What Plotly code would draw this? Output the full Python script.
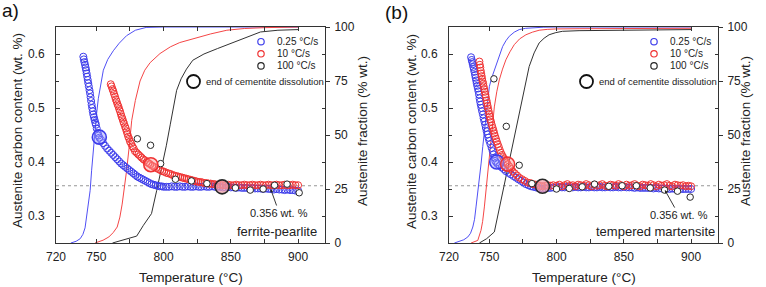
import plotly.graph_objects as go

W, H = 766, 287
MT, MB = 27, 44
PLOT_H = H - MT - MB

# ---------------- data ----------------
T_RANGE = [720, 920]
X_TICKS = [720, 750, 775, 800, 825, 850, 875, 900]
X_TICK_TEXT = ["720", "750", "", "800", "", "850", "", "900"]
C_RANGE = [0.25, 0.65]
C_TICKS = [0.3, 0.4, 0.5, 0.6]
C_MINOR = [0.35, 0.45, 0.55]
F_RANGE = [0, 100]
F_TICKS = [0, 25, 50, 75, 100]
F_MINOR = [12.5, 37.5, 62.5, 87.5]
REF_C = 0.356
RATES = ["0.25 °C/s", "10 °C/s", "100 °C/s"]
END_LABEL = "end of cementite dissolution"
PANEL_NOTES = ["ferrite-pearlite", "tempered martensite"]

# ----- panel a : carbon content (wt. %) -----
a_blue_T = [740.3, 740.7, 741.1, 741.6, 742.0, 742.4, 742.8, 743.2, 743.6, 744.0, 744.4, 744.9,
            745.3, 745.7, 746.1, 746.5, 746.9, 747.3, 747.7, 748.2, 748.7, 749.2, 749.7, 750.3,
            751.0, 751.6, 752.2, 753.5, 755.0, 756.5, 758.0, 759.5, 761.0, 762.5, 764.0, 765.5,
            767.0, 768.5, 770.0, 771.5, 773.0, 774.5, 776.0, 777.5, 779.0, 780.5, 782.0, 783.5,
            785.0, 786.5, 788.0, 789.5, 791.0, 792.5, 794.0, 795.5, 797.0, 798.5, 800.0,
            802, 804, 806, 808, 810, 812, 814, 816, 818, 820, 822, 824, 826, 828, 830, 832, 834,
            836, 838, 840, 842, 844, 846, 848, 850, 852, 854, 856, 858, 860, 862, 864, 866, 868,
            870, 872, 874, 876, 878, 880, 882, 884, 886, 888, 890, 892, 894, 896, 898, 900]
a_blue_C = [0.595, 0.590, 0.585, 0.580, 0.575, 0.570, 0.564, 0.558, 0.552, 0.546, 0.540, 0.533,
            0.527, 0.520, 0.513, 0.506, 0.500, 0.494, 0.488, 0.483, 0.478, 0.473, 0.469, 0.462,
            0.454, 0.449, 0.445, 0.441, 0.435, 0.430, 0.425, 0.421, 0.417, 0.413, 0.409, 0.405,
            0.401, 0.397, 0.394, 0.391, 0.388, 0.385, 0.382, 0.379, 0.376, 0.373, 0.371, 0.369,
            0.367, 0.365, 0.363, 0.361, 0.359, 0.358, 0.357, 0.356, 0.355, 0.355, 0.354,
            0.354, 0.354, 0.355, 0.354, 0.354, 0.355, 0.354, 0.354, 0.355, 0.354, 0.354, 0.355,
            0.354, 0.354, 0.355, 0.354, 0.354, 0.355, 0.354, 0.354, 0.354, 0.353, 0.353, 0.354,
            0.353, 0.353, 0.352, 0.353, 0.352, 0.352, 0.352, 0.351, 0.352, 0.351, 0.351, 0.351,
            0.350, 0.351, 0.350, 0.350, 0.349, 0.350, 0.349, 0.349, 0.348, 0.349, 0.348, 0.348,
            0.347, 0.347]

a_red_T = [760.7, 761.3, 762.0, 762.6, 763.2, 763.9, 764.5, 765.1, 765.7, 766.4, 767.0, 767.6,
           768.2, 768.8, 769.4, 770.0, 770.6, 771.3, 771.9, 772.5, 773.1, 773.7, 774.4, 775.0,
           775.9, 776.8, 777.8, 778.7, 780.0, 781.2, 782.5, 783.7, 785.0, 786.2, 787.5, 788.7,
           789.9, 791.5, 793.0, 794.5, 796.0, 797.5, 799.0, 800.5, 802.0, 803.5, 805.0, 806.5,
           808.0, 809.5, 811.0, 812.5, 814.0, 815.5, 817.0, 818.5, 820.0, 821.5, 823.0, 824.5,
           826.0, 827.5, 829.0, 830.5, 832.0, 833.5, 835.0, 836.5, 838.0,
           840, 842, 844, 846, 848, 850, 852, 854, 856, 858, 860, 862, 864, 866, 868, 870, 872,
           874, 876, 878, 880, 882, 884, 886, 888, 890, 892, 894, 896, 898, 900]
a_red_C = [0.544, 0.540, 0.535, 0.531, 0.526, 0.521, 0.516, 0.512, 0.507, 0.503, 0.498, 0.494,
           0.489, 0.484, 0.480, 0.475, 0.471, 0.466, 0.462, 0.457, 0.452, 0.447, 0.443, 0.438,
           0.434, 0.429, 0.425, 0.420, 0.417, 0.414, 0.411, 0.408, 0.405, 0.403, 0.400, 0.398,
           0.396, 0.393, 0.391, 0.389, 0.387, 0.385, 0.383, 0.382, 0.380, 0.379, 0.378, 0.376,
           0.375, 0.374, 0.373, 0.372, 0.371, 0.370, 0.369, 0.368, 0.367, 0.366, 0.365, 0.364,
           0.363, 0.363, 0.362, 0.361, 0.361, 0.360, 0.360, 0.359, 0.359,
           0.358, 0.358, 0.357, 0.357, 0.358, 0.357, 0.357, 0.358, 0.357, 0.357, 0.358, 0.357,
           0.357, 0.358, 0.357, 0.357, 0.358, 0.357, 0.357, 0.358, 0.357, 0.357, 0.358, 0.357,
           0.357, 0.358, 0.357, 0.357, 0.358, 0.357, 0.357]

a_black_T = [780.5, 790.3, 797.8, 808.8, 820.7, 832.2, 853.4, 864.4, 874.0, 882.5, 891.8, 900.8]
a_black_C = [0.443, 0.431, 0.397, 0.368, 0.365, 0.360, 0.352, 0.348, 0.350, 0.357, 0.359, 0.343]

# end of cementite dissolution (panel a): blue, red, black
a_end_T = [752.2, 790.5, 843.5]
a_end_C = [0.446, 0.395, 0.354]

# ----- panel a : austenite fraction (% wt.) -----
a_fblue_T = [731, 735, 738, 740, 741.6, 743, 744.3, 745.4, 746.5, 747.7, 749, 750.2, 751.5,
             753.3, 755.2, 758.5, 762.6, 767, 772.5, 779, 787, 800, 850, 900]
a_fblue_F = [0, 0.8, 2, 4, 7, 13, 19, 24.4, 33.7, 43, 52, 60, 67, 74, 80, 85, 89, 92.5, 96,
             98.5, 99.8, 100, 100, 100]
a_fred_T = [749, 752, 755, 759.3, 762.5, 765.5, 767.5, 769.2, 770.6, 772.5, 774.5, 776.3, 779,
            782.5, 786, 790, 797.3, 805, 812, 822, 835, 847, 860, 875, 900]
a_fred_F = [0, 0.5, 1.3, 2.8, 4.8, 7.4, 12, 18, 24.4, 33.6, 45, 56.8, 66, 75, 80, 83.5, 87.7,
            90.8, 92.8, 94.6, 96.8, 98.5, 99.3, 99.7, 100]
a_fblack_T = [762, 770, 780, 785, 791, 794.9, 798.6, 802, 805, 808, 809.7, 813, 817, 821.7,
              830, 840, 852, 862, 872, 885, 900]
a_fblack_F = [0, 1.5, 3.2, 8.2, 13.6, 24.4, 35, 45, 55, 66, 70.7, 76, 80.5, 84.6, 87.5, 90,
              93, 95.5, 97.7, 98.5, 98.8]

# ----- panel b : carbon content (wt. %) -----
b_blue_T = [736.4, 736.9, 737.3, 737.7, 738.1, 738.5, 738.9, 739.4, 739.8, 740.2, 740.6, 741.0,
            741.5, 741.9, 742.3, 742.7, 743.1, 743.6, 744.1, 744.6, 745.2, 745.7, 746.3, 746.9,
            747.4, 748.0, 748.7, 749.3, 750.0, 750.8, 751.7, 752.5, 753.1, 753.8, 754.4, 755.3,
            756.2, 757.7, 759.2, 760.7, 762.3, 764.2, 766.0, 767.9, 769.8, 771.6, 773.5, 775.3,
            777.2, 779.1, 781.0, 782.8, 784.6, 786.2, 787.8, 789.5, 791.5, 793.5, 795.5, 797.5,
            800, 802, 804, 806, 808, 810, 812, 814, 816, 818, 820, 822, 824, 826, 828, 830, 832,
            834, 836, 838, 840, 842, 844, 846, 848, 850, 852, 854, 856, 858, 860, 862, 864, 866,
            868, 870, 872, 874, 876, 878, 880, 882, 884, 886, 888, 890, 892, 894, 896, 898, 900]
b_blue_C = [0.594, 0.589, 0.585, 0.581, 0.576, 0.572, 0.567, 0.561, 0.556, 0.551, 0.546, 0.541,
            0.536, 0.531, 0.525, 0.518, 0.512, 0.506, 0.500, 0.494, 0.488, 0.481, 0.475, 0.469,
            0.463, 0.457, 0.451, 0.445, 0.439, 0.433, 0.426, 0.420, 0.414, 0.408, 0.402, 0.399,
            0.396, 0.393, 0.390, 0.387, 0.383, 0.380, 0.377, 0.374, 0.371, 0.368, 0.365, 0.362,
            0.359, 0.357, 0.355, 0.354, 0.353, 0.352, 0.351, 0.350, 0.351, 0.352, 0.352, 0.353,
            0.353, 0.354, 0.353, 0.353, 0.354, 0.353, 0.353, 0.354, 0.353, 0.353, 0.354, 0.353,
            0.353, 0.354, 0.353, 0.353, 0.354, 0.353, 0.353, 0.354, 0.353, 0.353, 0.354, 0.353,
            0.353, 0.354, 0.353, 0.353, 0.353, 0.352, 0.353, 0.352, 0.352, 0.352, 0.352, 0.352,
            0.351, 0.352, 0.351, 0.351, 0.351, 0.351, 0.350, 0.351, 0.350, 0.350, 0.350, 0.350,
            0.350, 0.350, 0.350]

b_red_T = [742.6, 742.9, 743.3, 743.6, 743.9, 744.3, 744.6, 745.0, 745.4, 745.8, 746.2, 746.6,
           747.0, 747.4, 747.9, 748.3, 748.7, 749.1, 749.5, 749.9, 750.3, 750.7, 751.3, 751.9,
           752.5, 753.1, 753.6, 754.2, 754.9, 755.5, 756.2, 757.0, 757.8, 758.6, 759.4, 760.3,
           761.1, 762.0, 762.8, 763.6, 764.8, 766.1, 767.3, 768.9, 770.6, 772.2, 774.3, 776.3,
           778.4, 780.5, 782.5, 784.6, 786.2, 787.8, 789.5, 791.5, 793.5, 795.5, 797.5,
           800, 802, 804, 806, 808, 810, 812, 814, 816, 818, 820, 822, 824, 826, 828, 830, 832,
           834, 836, 838, 840, 842, 844, 846, 848, 850, 852, 854, 856, 858, 860, 862, 864, 866,
           868, 870, 872, 874, 876, 878, 880, 882, 884, 886, 888, 890, 892, 894, 896, 898, 900]
b_red_C = [0.586, 0.580, 0.575, 0.569, 0.564, 0.559, 0.554, 0.549, 0.545, 0.540, 0.535, 0.530,
           0.525, 0.520, 0.514, 0.509, 0.504, 0.499, 0.494, 0.489, 0.484, 0.479, 0.474, 0.468,
           0.463, 0.458, 0.453, 0.448, 0.443, 0.438, 0.433, 0.428, 0.422, 0.417, 0.413, 0.409,
           0.405, 0.402, 0.399, 0.396, 0.392, 0.387, 0.383, 0.379, 0.375, 0.371, 0.368, 0.365,
           0.362, 0.361, 0.359, 0.358, 0.357, 0.356, 0.355, 0.356, 0.357, 0.356, 0.357,
           0.356, 0.358, 0.355, 0.357, 0.359, 0.356, 0.357, 0.355, 0.358, 0.357, 0.356, 0.359,
           0.357, 0.355, 0.358, 0.356, 0.357, 0.359, 0.356, 0.355, 0.358, 0.357, 0.356, 0.359,
           0.357, 0.355, 0.358, 0.356, 0.357, 0.359, 0.356, 0.355, 0.358, 0.357, 0.356, 0.359,
           0.357, 0.355, 0.358, 0.356, 0.357, 0.359, 0.356, 0.355, 0.358, 0.357, 0.356, 0.357,
           0.355, 0.356, 0.355]

b_black_T = [753.4, 762.6, 772.2, 781.6, 799.9, 809.4, 819.0, 828.2, 838.8, 848.7, 859.3, 869.6,
             880.3, 889.9, 899.3]
b_black_C = [0.554, 0.466, 0.394, 0.360, 0.350, 0.351, 0.354, 0.359, 0.355, 0.356, 0.356, 0.352,
             0.348, 0.346, 0.335]

b_end_T = [755.5, 763.6, 789.5]
b_end_C = [0.400, 0.396, 0.355]

# ----- panel b : austenite fraction (% wt.) -----
b_fblue_T = [724, 726.5, 731, 734, 736, 737.7, 739, 740.1, 741.4, 742.6, 743.9, 745.1, 746.3,
             747.5, 748.7, 750, 751.5, 753, 754.6, 756.2, 758, 759.9, 762.3, 764.8, 768.5, 772.2,
             777, 782, 790, 800, 850, 900]
b_fblue_F = [0, 0.5, 1.5, 2.8, 4.5, 7.4, 11, 16.7, 23, 29, 37, 44.6, 52, 60, 66.5, 72.4, 76,
             78.6, 82, 84.8, 88, 91, 93.6, 95.7, 97.6, 98.8, 99.4, 99.7, 99.9, 100, 100, 100]
b_fred_T = [736.4, 741.4, 743.8, 745, 746.3, 747.5, 748.8, 750, 751.2, 752.5, 753.7, 755.5,
            757.4, 759.8, 762.3, 765.3, 768.5, 772.5, 777.2, 782, 787, 793, 799.4, 816.7, 850,
            900]
b_fred_F = [0, 1.2, 5.9, 10, 16.7, 24, 32, 40, 47.7, 55.5, 63, 70, 75.5, 80.5, 84.8, 88.5,
            91.8, 94.5, 96.4, 97.6, 98.5, 98.9, 99.1, 99.2, 99.3, 99.4]
b_fblack_T = [742.6, 748, 753.7, 756, 758.6, 761.7, 764.8, 768.5, 772.2, 776, 779.6, 783.3, 787,
              790.7, 794.4, 799.4, 804.3, 816.7, 850, 900]
b_fblack_F = [0, 2, 5.1, 12, 19.8, 29, 38.4, 49, 60, 71, 81.7, 88, 92.6, 94.8, 96.4, 97.4, 98,
              98.3, 98.6, 98.8]

# ---------------- styling ----------------
BLUE = "rgb(60,60,235)"
RED = "rgb(240,50,50)"
BLACK = "rgb(40,40,40)"
LBLUE = "rgb(80,80,245)"
LRED = "rgb(245,70,70)"
LBLACK = "rgb(50,50,50)"
END_FILL = ["rgba(150,150,255,0.45)", "rgba(255,150,150,0.45)", "rgba(240,160,170,0.75)"]
FONT = "Liberation Sans, Arial, sans-serif"
TXT = "#222"

PANELS = [
    dict(xd=[56 / W, 325 / W], x="x", yf="y", yc="y2",
         data=dict(c=[(a_blue_T, a_blue_C), (a_red_T, a_red_C), (a_black_T, a_black_C)],
                   f=[(a_fblue_T, a_fblue_F), (a_fred_T, a_fred_F), (a_fblack_T, a_fblack_F)],
                   end=(a_end_T, a_end_C)),
         left=56, right=325),
    dict(xd=[449 / W, 718 / W], x="x2", yf="y3", yc="y4",
         data=dict(c=[(b_blue_T, b_blue_C), (b_red_T, b_red_C), (b_black_T, b_black_C)],
                   f=[(b_fblue_T, b_fblue_F), (b_fred_T, b_fred_F), (b_fblack_T, b_fblack_F)],
                   end=(b_end_T, b_end_C)),
         left=449, right=718),
]

fig = go.Figure()
line_cols = [LBLUE, LRED, LBLACK]
mark_cols = [BLUE, RED, BLACK]

for p in PANELS:
    d = p["data"]
    for (tx, fyv), col in zip(d["f"], line_cols):
        fig.add_trace(go.Scatter(x=tx, y=fyv, xaxis=p["x"], yaxis=p["yf"], mode="lines",
                                 line=dict(color=col, width=1), showlegend=False,
                                 hoverinfo="skip"))
    for i, ((tx, cy), col) in enumerate(zip(d["c"], mark_cols)):
        if i < 2:
            mk = dict(symbol="circle-open", size=7, color=col, line=dict(width=1.0, color=col))
        else:
            mk = dict(symbol="circle", size=6.5, color="white", line=dict(width=1, color=col))
        fig.add_trace(go.Scatter(x=tx, y=cy, xaxis=p["x"], yaxis=p["yc"], mode="markers",
                                 marker=mk, showlegend=False, hoverinfo="skip"))
    et, ec = d["end"]
    for i, col in enumerate(mark_cols):
        fig.add_trace(go.Scatter(x=[et[i]], y=[ec[i]], xaxis=p["x"], yaxis=p["yc"], mode="markers",
                                 marker=dict(symbol="circle", size=14, color=END_FILL[i],
                                             line=dict(width=1.6, color=col)),
                                 showlegend=False, hoverinfo="skip"))


def xax(domain, anchor):
    return dict(domain=domain, range=T_RANGE, anchor=anchor, tickmode="array",
                tickvals=X_TICKS, ticktext=X_TICK_TEXT, ticks="inside", ticklen=4,
                tickcolor="#333", showline=True, linecolor="#333", linewidth=1,
                mirror="ticks", showgrid=False, zeroline=False, automargin=False,
                tickfont=dict(size=12, color=TXT, family=FONT), ticklabelstandoff=3)


def fax(anchor):
    return dict(range=F_RANGE, anchor=anchor, side="right", tickmode="array",
                tickvals=F_TICKS, ticks="outside", ticklen=4, tickcolor="#333",
                minor=dict(tickmode="array", tickvals=F_MINOR, ticks="inside", ticklen=3,
                           tickcolor="#333"),
                showline=True, linecolor="#333", linewidth=1, showgrid=False, zeroline=False,
                automargin=False,
                tickfont=dict(size=12, color=TXT, family=FONT), ticklabelstandoff=2)


def cax(anchor, over):
    return dict(range=C_RANGE, anchor=anchor, overlaying=over, side="left", tickmode="array",
                tickvals=C_TICKS, ticks="inside", ticklen=4, tickcolor="#333",
                minor=dict(tickmode="array", tickvals=C_MINOR, ticks="inside", ticklen=2.5,
                           tickcolor="#333"),
                tickformat=".1f", automargin=False,
                showline=True, linecolor="#333", linewidth=1, showgrid=False, zeroline=False,
                tickfont=dict(size=12, color=TXT, family=FONT), ticklabelstandoff=8)


def fx(px):
    return px / W


def fy(py):
    return (MT + PLOT_H - py) / PLOT_H


def note(text, px, py, size, angle=0, xanchor="center", color=TXT):
    return dict(text=text, x=fx(px), y=fy(py), xref="paper", yref="paper", showarrow=False,
                xanchor=xanchor, yanchor="middle", textangle=angle,
                font=dict(size=size, color=color, family=FONT))


annotations = []
shapes = []

panel_text = [dict(lbl="a)", lx=10, ly=11, leftt=17, rightt=362, note=PANEL_NOTES[0],
                   notex=276.7, arrow=(879.6, 0.350, 8.6, 24)),
              dict(lbl="(b)", lx=396, ly=12, leftt=411, rightt=745, note=PANEL_NOTES[1],
                   notex=655, arrow=(880.5, 0.348, 14, 25))]

for p, t in zip(PANELS, panel_text):
    cx = (p["left"] + p["right"]) / 2
    annotations += [
        note(t["lbl"], t["lx"], t["ly"], 19, color="#111"),
        note("Austenite carbon content (wt. %)", t["leftt"], 131, 13.5, angle=-90),
        note("Austenite fraction (% wt.)", t["rightt"], 131, 13.5, angle=-90),
        note("Temperature (°C)", cx, 277, 13.5),
        note(t["note"], t["notex"], 231.5, 13),
    ]
    ax_x, ax_y, dx, dy = t["arrow"]
    annotations.append(dict(text=f"{REF_C} wt. %", x=ax_x, y=ax_y, xref=p["x"], yref=p["yc"],
                            ax=dx, ay=dy, showarrow=True, arrowhead=2, arrowsize=0.7,
                            arrowwidth=0.9, arrowcolor="#222", standoff=0,
                            font=dict(size=11, color=TXT, family=FONT)))
    # reference line
    shapes.append(dict(type="line", xref=f"{p['x']} domain", yref=p["yc"], x0=0, x1=1,
                       y0=REF_C, y1=REF_C, line=dict(color="rgb(150,150,150)", width=1,
                                                     dash="dot"), layer="below"))
    # legend (drawn manually to keep the compact spacing)
    mx = p["right"] - 64
    for i, (name, col) in enumerate(zip(RATES, mark_cols)):
        py = 41.7 + i * 12.1
        shapes.append(dict(type="circle", xref="paper", yref="paper", xsizemode="pixel",
                           ysizemode="pixel", xanchor=fx(mx), yanchor=fy(py), x0=-3.2, x1=3.2,
                           y0=-3.2, y1=3.2, line=dict(color=col, width=1.2),
                           fillcolor="rgba(0,0,0,0)"))
        annotations.append(note(name, mx + 14, py, 10, xanchor="left"))
    ex = p["right"] - 131.5
    shapes.append(dict(type="circle", xref="paper", yref="paper", xsizemode="pixel",
                       ysizemode="pixel", xanchor=fx(ex), yanchor=fy(81.5), x0=-6.5, x1=6.5,
                       y0=-6.5, y1=6.5, line=dict(color="#111", width=1.8),
                       fillcolor="rgba(0,0,0,0)"))
    annotations.append(note(END_LABEL, ex + 10, 81.5, 9.5, xanchor="left"))

fig.update_layout(
    template="none",
    width=W, height=H,
    margin=dict(l=0, r=0, t=MT, b=MB, pad=0, autoexpand=False),
    paper_bgcolor="white", plot_bgcolor="white",
    showlegend=False,
    font=dict(family=FONT, color=TXT),
    xaxis=xax(PANELS[0]["xd"], "y"),
    yaxis=fax("x"),
    yaxis2=cax("x", "y"),
    xaxis2=xax(PANELS[1]["xd"], "y3"),
    yaxis3=fax("x2"),
    yaxis4=cax("x2", "y3"),
    annotations=annotations,
    shapes=shapes,
)

fig.write_html("out.html")
